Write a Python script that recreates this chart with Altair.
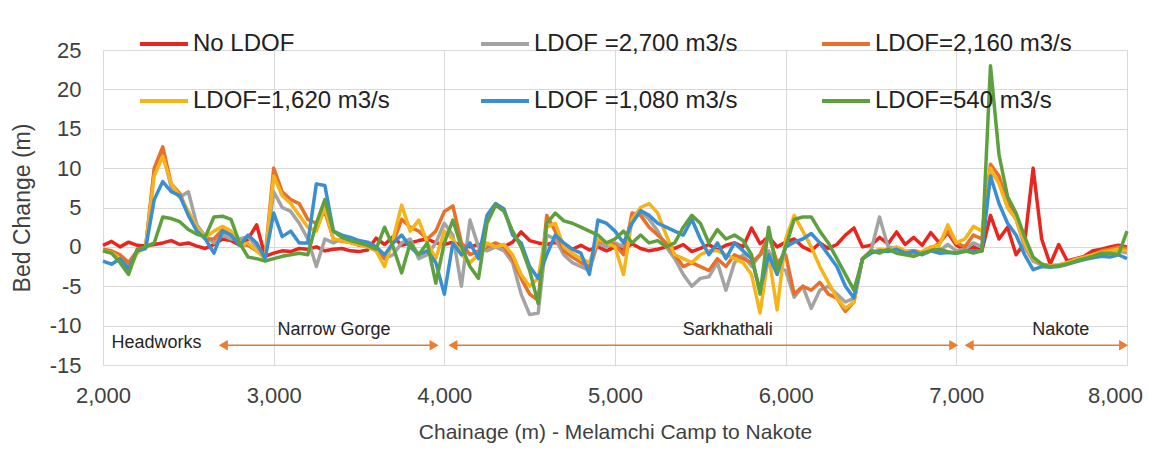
import altair as alt
import pandas as pd

# Chainage grid (m), every 50 m from 2,000 to 8,000
chainage = list(range(2000, 8001, 50))

series_names = ["No LDOF", "LDOF =2,700 m3/s", "LDOF=2,160 m3/s",
                "LDOF=1,620 m3/s", "LDOF =1,080 m3/s", "LDOF=540 m3/s"]
series_colors = ["#e8261e", "#a3a3a3", "#e8702a", "#f5b41a", "#3a8fd0", "#5fa03e"]

no_ldof = [
    0.2, 0.7, 0.0, 0.6, 0.2, 0.1, 0.3, 0.5, 0.8, 0.3,
    0.5, 0.1, -0.2, 0.3, 1.0, 0.8, 0.2, 1.0, 2.8, -1.2,
    -0.8, -0.5, -0.6, -0.2, -0.3, 0.0, -0.5, -0.3, -0.2, -0.5,
    -0.6, -0.4, 1.1, 0.3, 1.3, 0.2, 0.5, 0.8, 1.0, 0.5,
    0.3, 0.6, 0.2, 0.0, 0.3, 0.0, 0.4, 0.0, 0.6, 1.9,
    0.8, 0.5, 0.3, 0.6, 0.0, -0.3, 0.2, -0.4, 0.0, -0.5,
    0.0, -0.3, 0.4, -0.2, -0.5, -0.3, 0.0, -0.2, 0.3, -0.6,
    -0.2, 0.3, -0.4, 0.2, 0.5, 0.0, 2.4, 0.4, 1.3, 0.0,
    0.6, 1.0, 0.0, -0.5, 0.5, -0.2, 0.3, 1.5, 2.4, 0.0,
    0.2, 1.2, 0.4, 1.9, 0.3, 1.2, 0.2, 1.8, 0.5, 1.8,
    0.2, -0.4, 0.0, -0.5, 4.0, 1.0, 2.5, -1.0, 0.5, 10.0,
    1.0, -2.2, 0.3, -1.8, -1.5, -1.2, -0.5, -0.3, 0.0, 0.2,
    0.0,
]
ldof_2700 = [
    -0.5, -0.8, -1.2, -2.3, -0.5, 0.0, 9.5, 12.0, 7.5, 6.3,
    7.0, 2.8, 1.3, 0.5, 1.5, 1.0, 1.0, 1.3, 0.0, -1.2,
    7.0, 5.0, 4.5, 3.0, 1.0, -2.5, 1.0, 0.5, 1.0, 0.8,
    0.4, 0.2, -0.5, -1.5, -1.0, 0.5, 1.0, -1.5, -1.0, 0.5,
    3.0, 1.5, -5.0, 3.4, 0.0, -0.5, 0.0, -0.5, -2.0, -6.0,
    -8.6, -8.4, 1.5, 1.0, -1.0, -2.0, -2.5, -3.0, 0.5, 0.0,
    0.5, 0.0, 3.5, 4.5, 3.5, 2.0, 0.0, -1.5, -3.5, -5.0,
    -4.0, -3.8, -2.0, -5.5, -2.0, -1.0, -2.5, -1.0, -0.5, -2.5,
    -3.0, -6.4, -5.0, -7.8, -5.5, -5.0, -6.0, -7.0, -6.5, -1.5,
    -0.5, 3.8, 0.0, -0.2, -0.8, -0.5, -0.7, -0.4, -0.5, 0.3,
    -0.5, -0.3, 0.5, 0.0, 9.5, 8.3, 5.0, 3.5, 0.0, -1.8,
    -2.3, -2.5, -2.4, -2.1, -1.7, -1.4, -1.1, -0.8, -0.6, -0.5,
    -0.8,
]
ldof_2160 = [
    -0.3, -0.5, -1.0, -2.0, -0.5, 0.0, 10.0, 12.7, 8.0, 6.8,
    4.2, 2.5, 1.0, 1.0, 2.2, 1.5, 0.3, 0.2, -0.5, -1.3,
    10.0, 7.0, 6.0, 5.5, 3.5, 3.0, 4.5, 1.0, 0.7, 0.6,
    0.2, 0.1, -0.2, -1.5, 0.5, 3.5, 2.5, 2.0, 1.0, 2.0,
    4.5, 5.2, 0.5, -1.0, -0.5, 0.0, 0.5, 0.0, -1.5, -4.0,
    -6.0, -6.8, 4.0, 2.0, -0.5, -1.3, -2.0, -2.5, 0.8, 0.5,
    0.3, -1.0, 4.3, 4.0, 2.5, 1.5, 0.5, -1.0, -2.5, -2.0,
    -2.5, -3.0, -1.5, -2.5, -1.0, -1.5, -2.0, -1.0, 1.5, -2.0,
    -1.0, -6.0, -5.0, -5.5, -4.5, -6.0, -6.5, -8.2, -7.0, -1.5,
    -0.6, -0.5, -0.4, -0.2, -0.6, -0.5, -0.8, -0.3, 0.5, 2.0,
    0.5, 0.0, 1.5, 1.0, 10.5, 9.0, 5.5, 3.8, 0.5, -1.5,
    -2.2, -2.4, -2.3, -2.0, -1.6, -1.3, -1.0, -0.5, -0.3, 0.0,
    -0.2,
]
ldof_1620 = [
    -0.5, -0.7, -1.5, -3.0, -0.8, 0.0, 9.0, 11.5, 8.0, 6.5,
    4.5, 2.5, 1.2, 2.0, 2.6, 2.0, 0.2, 0.5, -0.5, -1.5,
    9.0, 6.5, 5.5, 4.0, 2.5, 2.0, 5.0, 1.0, 0.8, 0.5,
    0.3, 0.0, -0.5, -2.5, 1.0, 5.3, 2.0, 3.4, 0.5, -1.5,
    2.0, 1.0, -1.0, -2.0, -1.0, 0.5, 0.0, 0.3, -1.0, -3.5,
    -5.0, -4.0, 2.5, 3.0, 0.0, -0.8, -1.5, -2.0, 1.0, 0.5,
    0.0, -3.5, 3.5, 5.0, 5.5, 4.3, 1.5, -1.0, -1.5, -2.0,
    -1.0, -0.5, -0.5, -1.0, -1.5, -2.0, -3.5, -8.4, -1.0, -8.0,
    1.0, 4.0, 2.0, 0.0, -2.5, -4.5, -6.5, -7.8, -7.0, -1.5,
    -0.7, -0.3, -0.5, 0.0, -0.5, -0.8, -0.6, 0.0, 0.2, 2.8,
    0.5, 1.0, 2.6, 2.0, 10.0, 8.0, 5.0, 3.5, 0.5, -1.5,
    -2.2, -2.4, -2.3, -2.0, -1.6, -1.3, -1.0, -0.7, -0.5, -0.3,
    -0.5,
]
ldof_1080 = [
    -1.8, -2.2, -1.5, -2.8, -0.5, -0.2, 6.0, 8.3, 7.0, 6.5,
    4.0, 2.0, 1.0, -0.8, 2.0, 1.5, 0.2, 1.5, 0.5, -1.5,
    4.3, 1.3, 2.0, 0.5, 0.5, 8.0, 7.8, 2.0, 1.5, 1.2,
    0.8, 0.6, 0.0, -1.0, 0.5, 1.5, 0.0, -1.0, -0.5, -2.0,
    -6.0, 0.5, -1.0, 0.5, -1.5, 4.0, 5.5, 4.8, 1.5, 0.5,
    -2.5, -4.0, -1.0, 1.5, 0.5, -0.3, -0.8, -3.5, 3.4, 3.0,
    2.0, 0.5, 3.0, 4.6, 4.0, 3.0, 2.5, 2.0, 1.5, 3.5,
    1.0, -1.0, 0.5, -1.5, 0.5, -0.5, -1.5, -5.5, -1.0, -3.5,
    0.0, 0.6, 1.0, 1.7, 0.5, -1.0, -2.5, -5.0, -6.5, -1.5,
    -0.8, -0.5, -0.6, -0.3, -0.8, -0.6, -1.0, -0.5, -0.8, -0.7,
    -0.8, -0.6, -0.5, -0.5, 9.0, 5.5, 3.0, 1.5, -1.0, -2.9,
    -2.5, -2.6, -2.5, -2.2, -1.9, -1.6, -1.4, -1.2, -1.3, -1.0,
    -1.5,
]
ldof_540 = [
    -0.5, -0.8, -2.0, -3.5, -0.3, 0.0, 0.5, 3.8, 3.6, 3.2,
    2.2, 1.6, 1.3, 3.8, 3.9, 3.5, 0.5, -1.3, -1.5, -1.8,
    -1.5, -1.2, -1.0, -0.8, -1.0, 3.0, 6.0, 2.0, 1.2, 0.8,
    0.5, 0.2, -0.3, 2.5, 0.0, -3.3, 0.5, -1.0, 0.5, -4.6,
    0.5, 3.4, 0.0, -2.5, -4.0, 3.0, 5.3, 4.5, 2.0, 0.0,
    -3.0, -7.2, 3.0, 4.3, 3.3, 3.0, 2.5, 2.0, 1.5, 0.5,
    1.0, 2.0, 0.5, 1.5, 0.5, 0.8, 0.0, 0.5, 2.5, 4.0,
    3.0, 0.5, 2.2, 1.0, 1.5, 0.8, -1.0, -6.0, 2.5, -3.0,
    0.0, 3.5, 3.8, 3.8, 2.0, 0.5, -1.5, -3.5, -5.5, -1.6,
    -0.5, -0.8, -0.3, -0.8, -1.0, -1.2, -0.8, -0.5, -0.3, -0.6,
    -0.8, -0.5, -0.8, -0.5, 23.0, 11.7, 6.4, 4.3, 1.3, -1.3,
    -2.2, -2.5, -2.4, -2.2, -1.8, -1.5, -1.2, -0.8, -0.8, -1.0,
    2.0,
]

# Axis tick values
x_ticks = [2000, 3000, 4000, 5000, 6000, 7000, 8000]
y_ticks = [-15, -10, -5, 0, 5, 10, 15, 20, 25]

# Reach annotations
reach_labels = ["Headworks", "Narrow Gorge", "Sarkhathali", "Nakote"]
reach_label_x = [2313, 3353, 5661, 7612]
reach_label_y = [-12.2, -10.6, -10.6, -10.6]
arrow_start = [2705, 4050, 7075]
arrow_end = [3940, 6985, 7980]
arrow_y = -12.5
arrow_head_x = [2705, 3940, 4050, 6985, 7075, 7980]
arrow_head_shape = ["triangle-left", "triangle-right", "triangle-left",
                    "triangle-right", "triangle-left", "triangle-right"]

all_values = [no_ldof, ldof_2700, ldof_2160, ldof_1620, ldof_1080, ldof_540]
rows = []
for name, vals in zip(series_names, all_values):
    for c, v in zip(chainage, vals):
        rows.append({"chainage": c, "value": v, "series": name})
df = pd.DataFrame(rows)

FONT = "Liberation Sans"
x_title = "Chainage (m) - Melamchi Camp to Nakote"
y_title = "Bed Change (m)"
xscale = alt.Scale(domain=[2000, 8000], nice=False, zero=False)
yscale = alt.Scale(domain=[-15, 25], nice=False, zero=False)
xaxis = alt.Axis(values=x_ticks, format=",d", grid=True, tickCount=7,
                 ticks=False, domain=False, labelFontSize=22, labelPadding=20,
                 labelFlush=False, labelOverlap=False,
                 labelOffset={"condition": {"test": "datum.value == 8000", "value": -12},
                              "value": 0},
                 labelColor="#404040", titleColor="#404040", titleFontSize=21,
                 titleFontWeight="normal", titlePadding=15, gridColor="#d9d9d9",
                 labelFont=FONT, titleFont=FONT)
yaxis = alt.Axis(values=y_ticks, grid=True, tickCount=9, ticks=False, domain=False,
                 labelFontSize=22, labelPadding=22, labelColor="#404040",
                 labelFlush=False, labelOverlap=False,
                 labelExpr="datum.value < 0 ? '-' + abs(datum.value) : '' + datum.value",
                 titleColor="#404040", titleFontSize=23, titleFontWeight="normal",
                 titlePadding=15, gridColor="#d9d9d9", labelFont=FONT, titleFont=FONT)

X = alt.X("chainage:Q", scale=xscale, axis=xaxis, title=x_title)
Y = alt.Y("value:Q", scale=yscale, axis=yaxis, title=y_title)

color = alt.Color(
    "series:N",
    scale=alt.Scale(domain=series_names, range=series_colors),
    title=None,
    legend=alt.Legend(orient="none", legendX=35, legendY=-32, columns=3,
                      direction="horizontal", symbolType="stroke", symbolSize=2300,
                      symbolStrokeWidth=4, labelFontSize=24, labelOffset=3,
                      columnPadding=76, rowPadding=19, padding=0, gridAlign="all",
                      labelLimit=400, labelColor="#222222", labelFont=FONT),
)

base = alt.Chart(df).mark_line(strokeWidth=3.5, strokeJoin="round").encode(
    x=X, y=Y, color=color,
)
line_layers = [base.transform_filter(alt.datum.series == s) for s in series_names]

ann_df = pd.DataFrame({"chainage": reach_label_x, "value": reach_label_y,
                       "label": reach_labels})
ann_text = alt.Chart(ann_df).mark_text(fontSize=18, font=FONT, color="#262626").encode(
    x=X, y=Y, text="label:N",
)

arrow_df = pd.DataFrame({"chainage": arrow_start, "chainage_end": arrow_end,
                         "value": [arrow_y] * len(arrow_start)})
arrow_lines = alt.Chart(arrow_df).mark_rule(color="#e07b3c", strokeWidth=1.5).encode(
    x=X, x2=alt.X2("chainage_end:Q"), y=Y,
)

head_df = pd.DataFrame({"chainage": arrow_head_x,
                        "value": [arrow_y] * len(arrow_head_x),
                        "shape": arrow_head_shape})
arrow_heads = alt.Chart(head_df).mark_point(filled=True, color="#ed7d31", size=110,
                                            opacity=1).encode(
    x=X, y=Y, shape=alt.Shape("shape:N", scale=None, legend=None),
)

chart = alt.layer(*line_layers, arrow_lines, arrow_heads, ann_text).properties(
    width=1024,
    height=315,
    padding={"left": 95, "top": 42, "right": 18, "bottom": 80},
    autosize=alt.AutoSizeParams(type="none"),
).configure_view(stroke="#d9d9d9").configure(background="white")

chart.save("out.html", embed_options={"renderer": "svg", "actions": False})
